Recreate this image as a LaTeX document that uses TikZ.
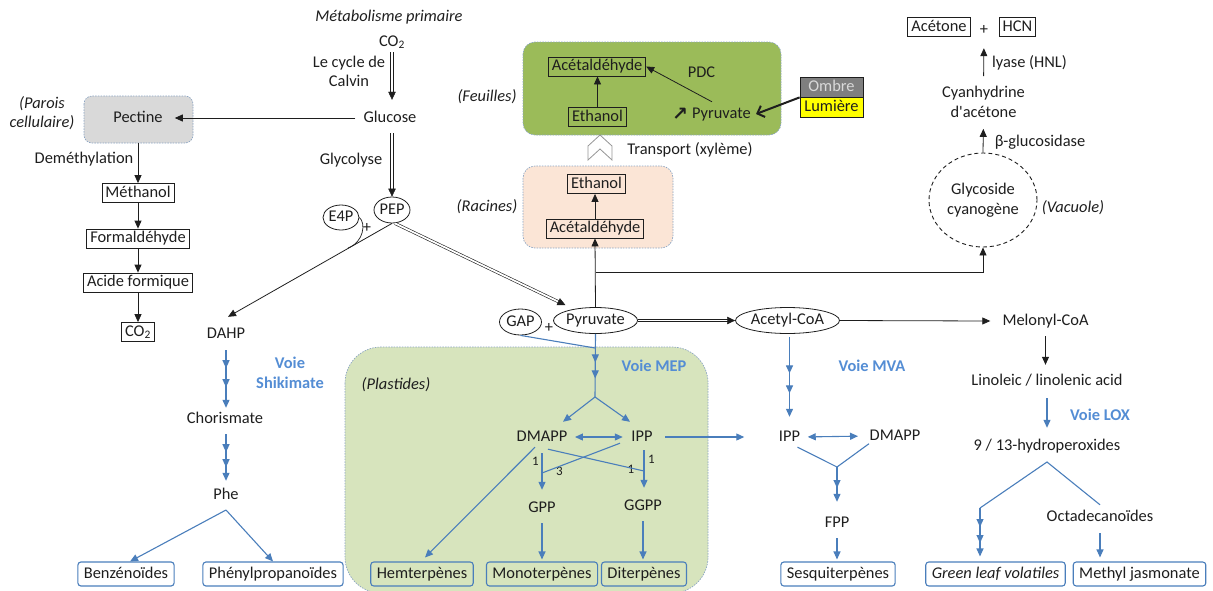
\documentclass[tikz,border=0pt]{standalone}
\usepackage{fontspec}
\setmainfont{Carlito}
\newfontfamily\dejavu{DejaVu Sans}
\usetikzlibrary{shapes.geometric,arrows.meta,decorations.markings,calc}
\definecolor{bl}{RGB}{74,126,187}
\definecolor{bltxt}{RGB}{84,141,212}
\definecolor{plastid}{RGB}{215,228,189}
\definecolor{leaf}{RGB}{155,187,89}
\definecolor{root}{RGB}{251,229,214}
\definecolor{pect}{RGB}{217,217,217}
\definecolor{regb}{RGB}{140,165,195}
\definecolor{ink}{RGB}{30,30,30}
\definecolor{ombre}{RGB}{127,127,127}
\definecolor{lum}{RGB}{255,255,0}
\definecolor{chev}{RGB}{150,150,150}
\newcommand{\myfs}{\fontsize{16.4pt}{19.7pt}\selectfont}
\begin{document}
\begin{tikzpicture}[x=1pt,y=-1pt,font=\myfs,
  >={Triangle[length=8pt,width=7pt]},
  t/.style={inner sep=1pt,text height=11.5pt,text depth=3.5pt,text=ink},
  tm/.style={inner sep=1pt,align=center,text=ink},
  box/.style={draw=ink,line width=0.8pt,inner xsep=3.5pt,inner ysep=2pt,text height=11.5pt,text depth=3.5pt,text=ink},
  prod/.style={draw=bl,line width=1.1pt,rounded corners=3pt,inner xsep=6pt,inner ysep=0pt,minimum height=24pt,text height=11.5pt,text depth=3.5pt,text=ink},
  ell/.style={draw=ink,line width=0.8pt,ellipse,inner sep=0pt,text height=11.5pt,text depth=3.5pt,text=ink},
  arr/.style={draw=ink,line width=0.8pt,->},
  ln/.style={draw=ink,line width=0.8pt},
  barr/.style={color=bl,line width=1.1pt,->},
  bln/.style={color=bl,line width=1.1pt},
  dbl/.style={draw=ink,double=white,double distance=1.8pt,line width=0.6pt},
  tipend/.style={postaction={decorate,decoration={markings,mark=at position 0.9999 with {\arrow{Triangle[length=8pt,width=7.5pt]}}}}},
  mk/.style={postaction={decorate,decoration={markings,mark=at position #1 with {\arrow{>}}}}},
  region/.style={draw=regb,line width=0.7pt,dash pattern=on 1.5pt off 1.2pt},
  voie/.style={inner sep=1pt,text=bltxt,font=\myfs\bfseries,align=center},
  lab/.style={inner sep=0.5pt,font=\fontsize{13pt}{15pt}\selectfont,text=ink}]
\useasboundingbox (0,0) rectangle (1213,590);

% regions
\draw[region,fill=pect,rounded corners=8pt] (84,96) rectangle (193,143);
\draw[region,fill=plastid,rounded corners=36pt] (345,347) rectangle (708,593);
\draw[region,fill=leaf,rounded corners=12pt] (523,42) rectangle (781,135);
\draw[region,fill=root,rounded corners=12pt] (523,166) rectangle (673,248);

% left / primary metabolism
\node[t,font=\myfs\itshape] (meta) at (389,17) {Métabolisme primaire};
\node[t] (co2) at (392,42) {CO\textsubscript{2}};
\node[tm] (calvin) at (349,71.5) {Le cycle de\\Calvin};
\node[t] (glucose) at (390,118) {Glucose};
\node[t] (pectine) at (138,118) {Pectine};
\node[tm,font=\myfs\itshape] (parois) at (42,113) {(Parois\\cellulaire)};
\node[t] (demeth) at (84,159) {Deméthylation};
\node[box] (methanol) at (138,193) {Méthanol};
\node[box] (formal) at (138,238.5) {Formaldéhyde};
\node[box] (acide) at (138,282.5) {Acide formique};
\node[box] (co2b) at (138,332) {CO\textsubscript{2}};
\node[t] (glycolyse) at (351,160) {Glycolyse};
\node[ell,minimum width=36pt,minimum height=26pt] (pep) at (392,210) {PEP};
\node[ell,minimum width=36pt,minimum height=25pt] (e4p) at (341,217.5) {E4P};
\node[t] (plus1) at (367,228) {+};
\node[t] (dahp) at (226,334) {DAHP};
\node[voie] (vshik) at (290,373) {Voie\\Shikimate};
\node[t] (chor) at (225,419) {Chorismate};
\node[t] (phe) at (226,495) {Phe};
\node[prod] (benz) at (126,574) {Benzénoïdes};
\node[prod] (phen) at (273,574) {Phénylpropanoïdes};

% plastids
\node[t,font=\myfs\itshape] (plast) at (396,385) {(Plastides)};
\node[voie] (vmep) at (654,366) {Voie MEP};
\node[ell,minimum width=42pt,minimum height=26pt] (gap) at (520.5,322) {GAP};
\node[t] (plus2) at (549,328) {+};
\node[ell,minimum width=84pt,minimum height=26pt] (pyr) at (595.5,320.5) {Pyruvate};
\node[t] (dmapp) at (542,437) {DMAPP};
\node[t] (ipp) at (642,437) {IPP};
\node[t] (gpp) at (542,508) {GPP};
\node[t] (ggpp) at (643,506) {GGPP};
\node[prod] (hem) at (422,574) {Hemterpènes};
\node[prod] (mono) at (542,574) {Monoterpènes};
\node[prod] (di) at (644,574) {Diterpènes};
\node[lab] (n1a) at (535.5,461) {1};
\node[lab] (n3) at (559.5,471) {3};
\node[lab] (n1b) at (631,469) {1};
\node[lab] (n1c) at (651.5,459) {1};

% right
\node[ell,minimum width=104pt,minimum height=26pt] (acetyl) at (787.5,320.5) {Acetyl-CoA};
\node[t] (melonyl) at (1045.5,321) {Melonyl-CoA};
\node[voie] (vmva) at (872,366) {Voie MVA};
\node[t] (linol) at (1047,381) {Linoleic / linolenic acid};
\node[voie] (vlox) at (1100,415) {Voie LOX};
\node[t] (hydro) at (1047,446) {9 / 13-hydroperoxides};
\node[t] (ipp2) at (789.5,437) {IPP};
\node[t] (dmapp2) at (895,436) {DMAPP};
\node[t] (fpp) at (837,523) {FPP};
\node[prod] (sesq) at (838,574) {Sesquiterpènes};
\node[t] (octa) at (1100,517) {Octadecanoïdes};
\node[prod,font=\myfs\itshape] (glv) at (995.5,574) {Green leaf volatiles};
\node[prod] (methyl) at (1139.5,574) {Methyl jasmonate};

% leaves / roots
\node[t,font=\myfs\itshape] (feuil) at (487,97) {(Feuilles)};
\node[box] (acf) at (597,66.5) {Acétaldéhyde};
\node[box] (ethf) at (597.5,117) {Ethanol};
\node[t] (pdc) at (701.5,73) {PDC};
\node[inner sep=0pt,text=ink,font=\fontsize{19pt}{20pt}\selectfont\dejavu\bfseries] (up) at (680,114) {↗};
\node[t] (pyrf) at (721.5,114) {Pyruvate};
\node[draw=ink,fill=ombre,text=white!85!black,minimum width=63pt,minimum height=20pt,inner sep=0pt,line width=0.8pt,text height=11.5pt,text depth=3.5pt] (ombre) at (831.5,87) {Ombre};
\node[draw=ink,fill=lum,text=ink,minimum width=63pt,minimum height=20pt,inner sep=0pt,line width=0.8pt,text height=11.5pt,text depth=3.5pt] (lumiere) at (831.5,107) {Lumière};
\draw[chev,fill=white,line width=0.8pt] (588,146) -- (600,135) -- (612,146) -- (612,160) -- (600,149) -- (588,160) -- cycle;
\node[t] (transp) at (690,150.5) {Transport (xylème)};
\node[t,font=\myfs\itshape] (racines) at (487,207) {(Racines)};
\node[box] (ethr) at (596.5,184) {Ethanol};
\node[box] (acr) at (595,228.5) {Acétaldéhyde};

% cyanogenic
\node[box] (acetone) at (939,27) {Acétone};
\node[t] (plus3) at (984,30) {+};
\node[box] (hcn) at (1017.5,27) {HCN};
\node[t] (lyase) at (1029.5,63) {lyase (HNL)};
\node[tm] (cyan) at (983.5,102) {Cyanhydrine\\d\textquotesingle acétone};
\node[t] (bglu) at (1040,142) {β-glucosidase};
\node[draw=ink,line width=0.9pt,dash pattern=on 4pt off 3pt,ellipse,minimum width=108pt,minimum height=94pt,inner sep=0pt,align=center,text=ink] (glyco) at (983,200) {Glycoside\\cyanogène};
\node[t,font=\myfs\itshape] (vac) at (1073,208) {(Vacuole)};

% ---- black connectors ----
% CO2 -> Glucose (double)
\draw[ln] ([xshift=-1.6pt,yshift=-1.5pt]co2.south) -- ([xshift=0.4pt,yshift=14.5pt]glucose.north);
\draw[ln] ([xshift=1.6pt,yshift=-1.5pt]co2.south) -- ([xshift=3.6pt,yshift=14.5pt]glucose.north);
\path[color=ink,tipend] ([yshift=-1.5pt]co2.south) -- ([xshift=2pt,yshift=9.5pt]glucose.north);
% Glucose -> PEP (double)
\draw[ln] ([xshift=0.4pt,yshift=-6.5pt]glucose.south) -- ([xshift=-1.6pt,yshift=5pt]pep.north);
\draw[ln] ([xshift=3.6pt,yshift=-6.5pt]glucose.south) -- ([xshift=1.6pt,yshift=5pt]pep.north);
\path[color=ink,tipend] ([xshift=2pt,yshift=-6.5pt]glucose.south) -- (pep.north);
% PEP -> Pyruvate (double)
\coordinate (pepo) at ([xshift=3pt]pep.south);
\coordinate (pyrtip) at ([xshift=-30pt,yshift=2pt]pyr.north);
\draw[dbl] (pepo) -- ($(pyrtip)!5pt!(pepo)$);
\path[color=ink,tipend] (pepo) -- (pyrtip);
% Pyruvate -> Acetyl-CoA (double)
\draw[dbl] (pyr.east) -- ([xshift=-5pt]acetyl.west);
\path[color=ink,tipend] (pyr.east) -- (acetyl.west);

\draw[arr] ([xshift=-7pt]glucose.west) -- ([xshift=11pt]pectine.east);
\draw[arr] ([yshift=-16.5pt]pectine.south) -- (methanol.north);
\draw[arr] (methanol) -- (formal);
\draw[arr] (formal) -- (acide);
\draw[arr] (acide) -- (co2b);
\draw[arr] (pep.south) -- ([xshift=2pt,yshift=8.5pt]dahp.north);
\coordinate (e4pj) at (348,248);
\draw[ln,line width=0.7pt] (e4p.east) .. controls (366,223) and (364,242) .. (e4pj);

\draw[arr] (pyr.north) -- (acr.south);
\coordinate (br) at (595.5,272);
\coordinate (bg) at (983,272);
\draw[arr] (br) -- (bg) -- (glyco.south);
\draw[arr] (acr.north) -- (acr.north |- ethr.south);
\draw[arr] (ethf.north) -- (ethf.north |- acf.south);
\draw[arr] ([xshift=-9.5pt,yshift=3.5pt]pyrf.north) -- (acf.east);
\draw[draw=ink,line width=2pt,-{Straight Barb[length=6pt,width=12pt]}] (ombre.south west) -- ([xshift=4pt]pyrf.east);
\draw[arr,shorten >=10pt] (glyco.north) -- (cyan.south);
\draw[arr,shorten <=9pt,shorten >=9.5pt] (cyan.north) -- (plus3.south);

\draw[arr] (acetyl.east) -- ([xshift=-11pt]melonyl.west);
\draw[arr,shorten <=6.5pt,shorten >=7.5pt] (melonyl.south) -- (melonyl.south |- linol.north);

% ---- blue connectors ----
\draw[barr,shorten <=8.5pt,shorten >=9.5pt] (linol.south) -- (hydro.north);
\coordinate (hb) at (1047,462);
\coordinate (hl) at (980,508);
\draw[bln] ([yshift=3.5pt]octa.north) -- (hb) -- (hl);
\draw[barr,mk=19pt,mk=35pt] (hl) -- ([xshift=-15.5pt,yshift=5pt]glv.north);
\draw[barr,shorten <=7.5pt] (octa.south) -- ([xshift=-39.5pt,yshift=4pt]methyl.north);

\coordinate (mj) at (595,348);
\coordinate (mb) at (595,397);
\draw[bln] (gap.south) -- (mj);
\draw[bln,mk=28.5pt,mk=44.5pt] (pyr.south) -- (mb);
\draw[barr] (mb) -- ([xshift=21pt,yshift=6.5pt]dmapp.north);
\draw[barr] (mb) -- ([xshift=-12pt,yshift=6.5pt]ipp.north);
\draw[barr,<->,shorten <=6.5pt,shorten >=7.5pt] (dmapp.east) -- (ipp.west);
\draw[barr,shorten <=11.5pt,shorten >=33.5pt] (ipp.east) -- (ipp2.west);
\draw[barr] ([xshift=-7pt,yshift=-1.5pt]dmapp.south) -- ([xshift=3pt,yshift=4pt]hem.north);
\draw[barr] ([yshift=-7.5pt]dmapp.south) -- ([yshift=9.5pt]gpp.north);
\coordinate (g3) at (542,473);
\coordinate (g1) at (644,471);
\draw[bln] ([xshift=-22pt,yshift=2.5pt]ipp.south) -- (g3);
\draw[bln] ([xshift=6pt,yshift=-3.5pt]dmapp.south) -- (g1);
\draw[barr] ([xshift=2pt,yshift=-4.5pt]ipp.south) -- ([xshift=1pt,yshift=9.5pt]ggpp.north);
\draw[barr,shorten <=6.5pt,shorten >=2pt] (gpp.south) -- (mono.north);
\draw[barr,shorten <=6.5pt,shorten >=2pt] (ggpp.south) -- (ggpp.south |- di.north);

\draw[barr,mk=36.5pt,mk=56.5pt] ([xshift=2pt,yshift=-3pt]acetyl.south) -- ([yshift=11.5pt]ipp2.north);
\draw[barr,<->,shorten <=6.5pt,shorten >=10.5pt] (ipp2.east) -- (dmapp2.west);
\coordinate (fv) at (837,467);
\draw[bln] ([xshift=8pt,yshift=-1.5pt]ipp2.south) -- (fv) -- ([xshift=-26pt,yshift=1pt]dmapp2.south);
\draw[barr,mk=21pt] (fv) -- ([yshift=12.5pt]fpp.north);
\draw[barr,shorten <=6.5pt,shorten >=2pt] (fpp.south) -- (fpp.south |- sesq.north);

\draw[barr,mk=18pt,mk=37pt] ([yshift=-7.5pt]dahp.south) -- ([xshift=1pt,yshift=2.5pt]chor.north);
\draw[barr,mk=18pt,mk=33pt] ([xshift=1pt,yshift=-6.5pt]chor.south) -- ([yshift=5.5pt]phe.north);
\coordinate (phb) at (226,510);
\draw[barr] (phb) -- ([xshift=4pt]benz.north);
\draw[barr] (phb) -- (phen.north);
\end{tikzpicture}
\end{document}
